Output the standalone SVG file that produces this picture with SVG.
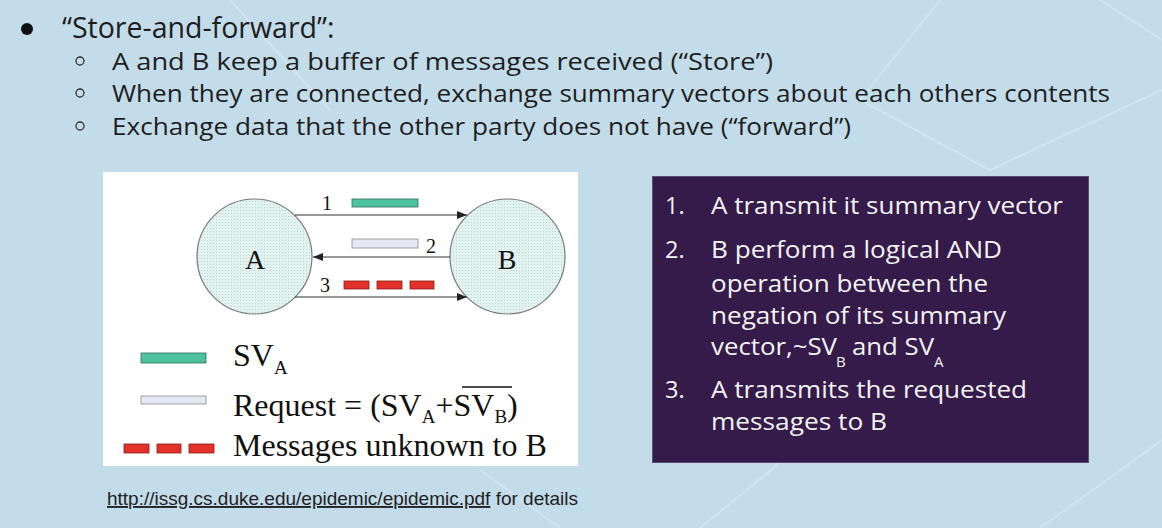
<svg xmlns="http://www.w3.org/2000/svg" width="1162" height="528" viewBox="0 0 1162 528">
<style>
.h{font-family:"Open Sans","Noto Sans",sans-serif;fill:#1e1e1e}
.t{font-family:"Liberation Serif","Times New Roman",serif;fill:#111}
.w{font-family:"Open Sans","Noto Sans",sans-serif;fill:#f4f4f4;font-size:23.5px}
.ws{font-family:"Open Sans","Noto Sans",sans-serif;fill:#f4f4f4;font-size:15px}
.node{fill:url(#dots);stroke:#7a7a7a;stroke-width:1.2}
.green{fill:#4ec29c;stroke:#2f6b5a;stroke-width:0.8}
.light{fill:#e6e8f5;stroke:#8a8a8a;stroke-width:0.8}
.red{fill:#e2302a;stroke:#8b1a16;stroke-width:0.8}
.edge{stroke:#333;stroke-width:1.2;fill:none;marker-end:url(#ah)}
</style>
<defs>
<pattern id="dots" width="3" height="3" patternUnits="userSpaceOnUse">
<rect width="3" height="3" fill="#e1f2ef"/>
<rect width="1" height="1" fill="#b6d8d2"/>
</pattern>
<marker id="ah" markerWidth="10" markerHeight="8" refX="10" refY="4" orient="auto" markerUnits="userSpaceOnUse">
<path d="M0,0 L10,4 L0,8 Z" fill="#222"/>
</marker>
</defs>
<rect width="1162" height="528" fill="#c3dcea"/>
<g stroke="#d4e7f1" stroke-width="2" fill="none" opacity="0.8">
<path d="M230,0 L330,110 M940,0 L860,100 L990,170 M990,170 L1162,90 M1100,0 L1162,40 M700,528 L820,430 M1040,528 L1162,440 M560,528 L480,470"/>
</g>

<g id="header">
<circle cx="27" cy="29" r="6" fill="#111"/>
<text class="h" x="62" y="38" font-size="28.5">“Store-and-forward”:</text>
<circle cx="80" cy="61" r="4" fill="none" stroke="#333" stroke-width="1.3"/>
<text class="h" x="112" y="70" font-size="24" textLength="661" lengthAdjust="spacingAndGlyphs">A and B keep a buffer of messages received (“Store”)</text>
<circle cx="80" cy="93" r="4" fill="none" stroke="#333" stroke-width="1.3"/>
<text class="h" x="112" y="102" font-size="24" textLength="998" lengthAdjust="spacingAndGlyphs">When they are connected, exchange summary vectors about each others contents</text>
<circle cx="80" cy="126" r="4" fill="none" stroke="#333" stroke-width="1.3"/>
<text class="h" x="112" y="135" font-size="24" textLength="739" lengthAdjust="spacingAndGlyphs">Exchange data that the other party does not have (“forward”)</text>
</g>

<rect x="103" y="172" width="475" height="294" fill="#ffffff"/>

<g id="nodeA">
<circle class="node" cx="254.5" cy="256.5" r="57.5"/>
<text class="t" x="255" y="269" font-size="28" text-anchor="middle">A</text>
</g>
<g id="nodeB">
<circle class="node" cx="507.5" cy="256.5" r="57.5"/>
<text class="t" x="507" y="269" font-size="28" text-anchor="middle">B</text>
</g>

<g id="connectors">
<line class="edge" x1="295" y1="215" x2="467" y2="215"/>
<line class="edge" x1="450" y1="257" x2="313" y2="257"/>
<line class="edge" x1="295" y1="297" x2="467" y2="297"/>
</g>

<g id="labels">
<text class="t" x="322" y="210" font-size="20">1</text>
<rect class="green" x="352" y="199" width="66" height="8"/>
<rect class="light" x="352" y="239" width="66" height="9"/>
<text class="t" x="426" y="253" font-size="20">2</text>
<text class="t" x="320" y="292" font-size="20">3</text>
<rect class="red" x="344" y="281" width="25" height="8"/>
<rect class="red" x="377" y="281" width="25" height="8"/>
<rect class="red" x="410" y="281" width="24" height="8"/>
</g>

<g id="legend">
<rect class="green" x="141" y="353" width="65" height="10"/>
<text class="t" x="233" y="366" font-size="32">SV<tspan font-size="19" dy="8">A</tspan></text>
<rect class="light" x="141" y="396" width="65" height="8"/>
<text class="t" x="233" y="416" font-size="32">Request = (SV<tspan font-size="19" dy="7">A</tspan><tspan dy="-7">+SV</tspan><tspan font-size="19" dy="7">B</tspan><tspan dy="-7">)</tspan></text>
<line x1="462" y1="387" x2="512" y2="387" stroke="#111" stroke-width="1.5"/>
<rect class="red" x="124" y="444" width="25" height="9"/>
<rect class="red" x="157" y="444" width="24" height="9"/>
<rect class="red" x="189" y="444" width="25" height="9"/>
<text class="t" x="233" y="456" font-size="32">Messages unknown to B</text>
</g>

<g id="steps">
<rect x="652.5" y="176.5" width="436" height="286" fill="#341b49" stroke="#5a4a74" stroke-width="1"/>
<text class="w" x="665" y="214">1.</text>
<text class="w" x="711" y="214" textLength="352" lengthAdjust="spacingAndGlyphs">A transmit it summary vector</text>
<text class="w" x="665" y="258">2.</text>
<text class="w" x="711" y="258" textLength="291" lengthAdjust="spacingAndGlyphs">B perform a logical AND</text>
<text class="w" x="711" y="292" textLength="277" lengthAdjust="spacingAndGlyphs">operation between the</text>
<text class="w" x="711" y="324" textLength="295" lengthAdjust="spacingAndGlyphs">negation of its summary</text>
<text class="w" x="711" y="355" textLength="126" lengthAdjust="spacingAndGlyphs">vector,~SV</text>
<text class="ws" x="836" y="367">B</text>
<text class="w" x="852" y="355" textLength="82" lengthAdjust="spacingAndGlyphs">and SV</text>
<text class="ws" x="934" y="367">A</text>
<text class="w" x="665" y="398">3.</text>
<text class="w" x="711" y="398" textLength="316" lengthAdjust="spacingAndGlyphs">A transmits the requested</text>
<text class="w" x="711" y="430" textLength="176" lengthAdjust="spacingAndGlyphs">messages to B</text>
</g>

<g id="footer">
<text x="107" y="505" font-family="Liberation Sans, Arial, sans-serif" font-size="19" fill="#222"><tspan text-decoration="underline">http://issg.cs.duke.edu/epidemic/epidemic.pdf</tspan> for details</text>
</g>
</svg>
